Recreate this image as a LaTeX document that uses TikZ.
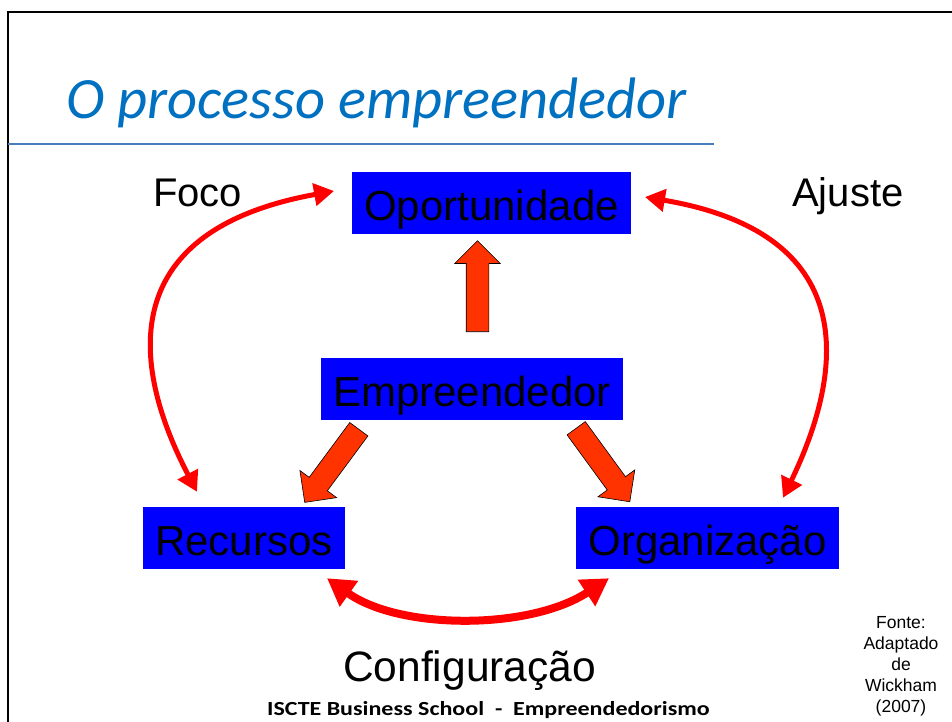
\documentclass[tikz,border=0pt]{standalone}
\usepackage{fontspec}
\setmainfont{Liberation Sans}
\newfontfamily\slidefont{Carlito}
\usepackage{tikz}
\usetikzlibrary{arrows.meta,shapes.arrows}

\definecolor{boxblue}{HTML}{0000FF}
\definecolor{titleblue}{HTML}{0070C0}
\definecolor{ruleblue}{HTML}{4A7EBB}
\definecolor{fatred}{HTML}{FF3300}

\tikzset{
  stagebox/.style={fill=boxblue,text=black,font=\fontsize{42}{42}\selectfont,
    inner xsep=12pt,inner ysep=8pt,text height=40pt,text depth=6pt},
  fatarrow/.style={single arrow,fill=fatred,draw=black,line width=0.6pt,
    inner xsep=0pt,inner ysep=11pt,minimum height=91pt,minimum width=45pt,
    single arrow head extend=11.5pt,anchor=tail},
  loopline/.style={draw=red,line width=5pt,
    {Triangle[length=20pt,width=22pt]}-{Triangle[length=20pt,width=22pt]}},
  bigloop/.style={draw=red,line width=8pt,
    {Triangle[length=27pt,width=30pt]}-{Triangle[length=27pt,width=30pt]}},
  sidelabel/.style={font=\fontsize{40}{40}\selectfont,anchor=base west,inner sep=0pt}
}

\begin{document}
\begin{tikzpicture}[x=1pt,y=-1pt]
\useasboundingbox (0,0) rectangle (952,722);

    % slide frame and title
    \draw[black,line width=2.5pt] (8,722) -- (8,12) -- (952,12);
    \draw[ruleblue,line width=1.2pt] (8,144) -- (714,144);
    \node[anchor=base west,inner sep=0pt,text=titleblue,
      font=\slidefont\itshape\fontsize{58.5}{58.5}\selectfont] (title) at (66,119) {O processo empreendedor};

    % the four stages
    \node[stagebox] (opp) at (491.5,203) {Oportunidade};
    \node[stagebox] (emp) at (472,389) {Empreendedor};
    \node[stagebox] (rec) at (244,538) {Recursos};
    \node[stagebox] (org) at (707.5,538) {Organização};

    % fat arrows out of Empreendedor
    \node[fatarrow,rotate=90] (upar) at (477.5,332) {};
    \node[fatarrow,rotate=233.5] (leftar) at (359,429) {};
    \node[fatarrow,rotate=-53.9] (rightar) at (576,428) {};

    % loops
    \draw[loopline] ([xshift=-18pt,yshift=12pt]opp.west) .. controls +(-215,39) and +(-69,-132) .. ([xshift=-47pt,yshift=15pt]rec.north);
    \draw[loopline] ([xshift=14pt,yshift=6pt]opp.east) .. controls +(224,38) and +(57,-118) .. ([xshift=75.5pt,yshift=9pt]org.north);
    \draw[bigloop] ([xshift=83pt,yshift=-9pt]rec.south) .. controls +(73,52) and +(-79,52) .. ([xshift=-98.5pt,yshift=-9pt]org.south);

    \node[sidelabel] (foco) at (153,206) {Foco};
    \node[sidelabel] (ajuste) at (792,206) {Ajuste};
    \node[sidelabel,font=\fontsize{42.5}{42.5}\selectfont] (config) at (343,681) {Configuração};

    \node[align=center,inner sep=0pt,font=\fontsize{17.5}{21}\selectfont] (fonte) at (901,666) {Fonte:\\Adaptado\\de\\Wickham\\(2007)};
    \node[anchor=base west,inner sep=0pt,font=\slidefont\bfseries\fontsize{20}{20}\selectfont] (footer) at (267,715) {\scalebox{1.2}[1]{ISCTE Business School\ \ -\ \ Empreendedorismo}};

\end{tikzpicture}
\end{document}
